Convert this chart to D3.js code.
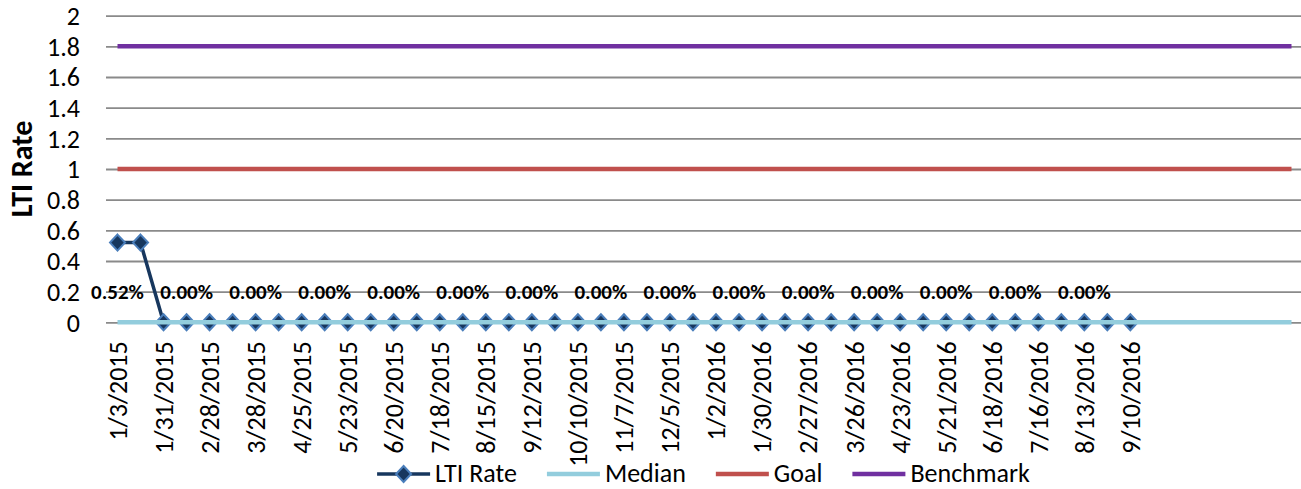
<!DOCTYPE html>
<html>
<head>
<meta charset="utf-8">
<script src="https://cdn.jsdelivr.net/npm/d3@7"></script>
<style>
  html, body { margin: 0; padding: 0; background: #fff; }
  svg { display: block; }
  text { font-family: Carlito, Calibri, "Open Sans", sans-serif; fill: #000; }
</style>
</head>
<body>
<svg id="chart" width="1301" height="489"></svg>
<script>
// ---- data ----
const categories = [
  "1/3/2015","1/17/2015","1/31/2015","2/14/2015","2/28/2015","3/14/2015","3/28/2015","4/11/2015",
  "4/25/2015","5/9/2015","5/23/2015","6/6/2015","6/20/2015","7/4/2015","7/18/2015","8/1/2015",
  "8/15/2015","8/29/2015","9/12/2015","9/26/2015","10/10/2015","10/24/2015","11/7/2015","11/21/2015",
  "12/5/2015","12/19/2015","1/2/2016","1/16/2016","1/30/2016","2/13/2016","2/27/2016","3/12/2016",
  "3/26/2016","4/9/2016","4/23/2016","5/7/2016","5/21/2016","6/4/2016","6/18/2016","7/2/2016",
  "7/16/2016","7/30/2016","8/13/2016","8/27/2016","9/10/2016",
  "","","","","","",""
];
const ltiRate = [
  0.52,0.52,0,0,0,0,0,0,0,0,0,0,0,0,0,0,0,0,0,0,0,0,0,0,0,0,0,0,0,0,0,0,0,0,0,0,0,0,0,0,0,0,0,0,0
];
const median = [
  0,0,0,0,0,0,0,0,0,0,0,0,0,0,0,0,0,0,0,0,0,0,0,0,0,0,
  0,0,0,0,0,0,0,0,0,0,0,0,0,0,0,0,0,0,0,0,0,0,0,0,0,0
];
const goal = [
  1,1,1,1,1,1,1,1,1,1,1,1,1,1,1,1,1,1,1,1,1,1,1,1,1,1,
  1,1,1,1,1,1,1,1,1,1,1,1,1,1,1,1,1,1,1,1,1,1,1,1,1,1
];
const benchmark = [
  1.8,1.8,1.8,1.8,1.8,1.8,1.8,1.8,1.8,1.8,1.8,1.8,1.8,1.8,1.8,1.8,1.8,1.8,1.8,1.8,1.8,1.8,1.8,1.8,1.8,1.8,
  1.8,1.8,1.8,1.8,1.8,1.8,1.8,1.8,1.8,1.8,1.8,1.8,1.8,1.8,1.8,1.8,1.8,1.8,1.8,1.8,1.8,1.8,1.8,1.8,1.8,1.8
];
const yTicks = [0, 0.2, 0.4, 0.6, 0.8, 1, 1.2, 1.4, 1.6, 1.8, 2];
const seriesNames = ["LTI Rate", "Median", "Goal", "Benchmark"];
const labelEvery = 3;      // data labels shown on every 3rd point
const labelLevel = 0.2;    // data labels sit on this value level
const tickEvery = 2;       // category labels on every 2nd category

// ---- styles ----
const colors = { "LTI Rate": "#17375E", "Median": "#93CDDD", "Goal": "#C0504D", "Benchmark": "#7030A0" };
const markerStroke = "#4A7EBB";
const fsTick = 26, fsLeg = 26, fsLab = 21, fsTitle = 30;

const svg = d3.select("#chart");
const plotLeft = 106, plotRight = 1303, plotTop = 15.7, plotBottom = 322.3;

const x = d3.scaleBand().domain(d3.range(categories.length)).range([plotLeft, plotRight]);
const cx = i => x(i) + x.bandwidth() / 2;
const y = d3.scaleLinear().domain([0, 2]).range([plotBottom, plotTop]);

// gridlines + y tick labels
const yAxis = d3.axisLeft(y).tickValues(yTicks).tickSize(-(plotRight - plotLeft)).tickPadding(26)
  .tickFormat(d => d3.format("~g")(d));
const gy = svg.append("g").attr("transform", `translate(${plotLeft},0)`).call(yAxis);
gy.select(".domain").remove();
gy.selectAll(".tick line").attr("stroke", "#8a8a8a").attr("stroke-width", 1.8);
gy.selectAll(".tick text").attr("font-size", fsTick).attr("fill", "#000").attr("dy", "0.34em");

// y title
svg.append("text")
  .attr("transform", `translate(32,${(plotTop + plotBottom) / 2}) rotate(-90)`)
  .attr("text-anchor", "middle")
  .attr("font-size", fsTitle).attr("font-weight", "bold")
  .text("LTI Rate");

// x labels
const xAxis = d3.axisBottom(x)
  .tickValues(d3.range(categories.length).filter(i => i % tickEvery === 0 && categories[i] !== ""))
  .tickFormat(i => categories[i]).tickSize(0);
const gx = svg.append("g").attr("transform", `translate(0,${plotBottom})`).call(xAxis);
gx.select(".domain").remove();
gx.selectAll(".tick text")
  .attr("font-size", fsTick).attr("fill", "#000")
  .attr("text-anchor", "end")
  .attr("transform", "rotate(-90)")
  .attr("x", -19).attr("y", 0).attr("dy", "0.36em");

const line = d3.line().x((d, i) => cx(i)).y(d => y(d));
const diamond = "M0,-8L7.5,0L0,8L-7.5,0Z";

// LTI line + markers
svg.append("path").datum(ltiRate).attr("d", line)
  .attr("fill", "none").attr("stroke", colors["LTI Rate"]).attr("stroke-width", 3.5);
svg.append("g").selectAll("path").data(ltiRate).join("path")
  .attr("d", diamond)
  .attr("transform", (d, i) => `translate(${cx(i)},${y(d)})`)
  .attr("fill", colors["LTI Rate"]).attr("stroke", markerStroke).attr("stroke-width", 2);

// other series
[["Median", median], ["Goal", goal], ["Benchmark", benchmark]].forEach(([name, vals]) => {
  svg.append("path").datum(vals).attr("d", line)
    .attr("fill", "none").attr("stroke", colors[name]).attr("stroke-width", 4.5);
});

// data labels
svg.append("g").selectAll("text")
  .data(ltiRate.map((v, i) => ({ v, i })).filter(d => d.i % labelEvery === 0))
  .join("text")
  .attr("x", d => cx(d.i)).attr("y", y(labelLevel)).attr("dy", "0.36em")
  .attr("text-anchor", "middle").attr("font-size", fsLab).attr("font-weight", "bold")
  .text(d => d.v.toFixed(2) + "%");

// legend
const legend = svg.append("g");
const legY = 474, lineLen = 53, textGap = 5, itemGap = 30;
let lx = 0;
seriesNames.forEach(name => {
  const g = legend.append("g");
  g.append("line").attr("x1", 0).attr("x2", lineLen).attr("y1", legY).attr("y2", legY)
    .attr("stroke", colors[name]).attr("stroke-width", name === "LTI Rate" ? 3.5 : 4.5);
  if (name === "LTI Rate") {
    g.append("path").attr("d", diamond).attr("transform", `translate(${lineLen / 2},${legY})`)
      .attr("fill", colors[name]).attr("stroke", markerStroke).attr("stroke-width", 2);
  }
  const t = g.append("text").attr("x", lineLen + textGap).attr("y", legY).attr("dy", "0.3em")
    .attr("font-size", fsLeg).text(name);
  const w = lineLen + textGap + t.node().getComputedTextLength();
  g.attr("transform", `translate(${lx},0)`);
  lx += w + itemGap;
});
const totalW = lx - itemGap;
legend.attr("transform", `translate(${(plotLeft + 1301) / 2 - totalW / 2},0)`);
</script>
</body>
</html>
